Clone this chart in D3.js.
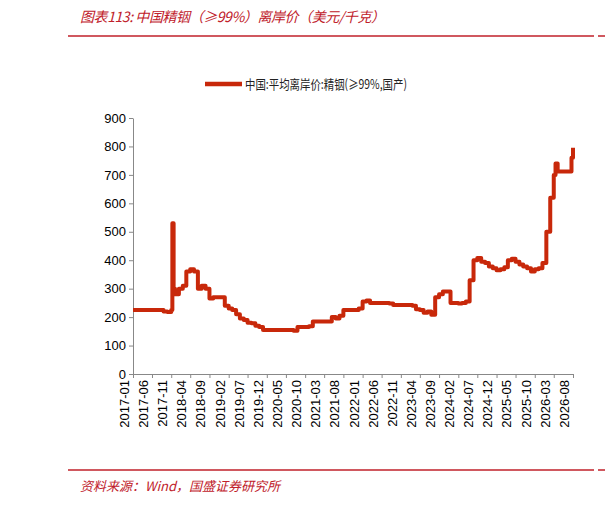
<!DOCTYPE html>
<html><head><meta charset="utf-8">
<script src="https://cdn.jsdelivr.net/npm/d3@7"></script>
<style>body{margin:0;background:#fff}</style>
</head><body><svg id="c" width="605" height="505"></svg>
<script>
var dates = ["2017-01","2017-08","2017-09","2017-10","2017-11","2017-11-10","2017-11-20","2017-12","2018-01","2018-02","2018-03","2018-04","2018-05","2018-06","2018-07","2018-08","2018-09","2018-10","2018-12","2019-01","2019-02","2019-03","2019-04","2019-05","2019-06","2019-07","2019-08","2019-09","2019-10","2019-11","2020-06","2020-07","2020-08","2020-11","2020-12","2021-04","2021-05","2021-06","2021-07","2021-08","2021-12","2022-01","2022-02","2022-03","2022-08","2022-09","2023-02","2023-03","2023-04","2023-05","2023-06","2023-07","2023-08","2023-09","2023-10","2023-11","2023-12","2024-02","2024-03","2024-04","2024-05","2024-06","2024-07","2024-08","2024-09","2024-10","2024-11","2024-12","2025-01","2025-02","2025-03","2025-04","2025-05","2025-06","2025-07","2025-08","2025-09","2025-10","2025-11","2025-12","2026-01","2026-02","2026-03","2026-03-15","2026-04","2026-07","2026-07-20","2026-08"];
var values = [225,225,220,218,225,530,300,280,300,310,360,368,360,300,310,300,265,270,270,240,230,225,210,195,190,180,178,170,165,155,155,152,165,168,185,185,200,195,205,225,230,255,258,250,248,243,240,228,225,215,220,208,270,280,290,290,250,248,250,255,330,400,408,395,390,378,372,365,368,375,400,405,395,385,378,372,360,368,372,390,500,620,700,740,712,712,760,795];
var yTicks = [0,100,200,300,400,500,600,700,800,900];

var parse = function(s){ return s.length > 7 ? d3.timeParse("%Y-%m-%d")(s) : d3.timeParse("%Y-%m")(s); };
var data = dates.map(function(d,i){ return {date: parse(d), value: values[i]}; });

var svg = d3.select("#c");
var red = "#c0202a";
var x = d3.scaleTime().domain([parse("2017-01"), parse("2026-08")]).range([133, 573]);
var y = d3.scaleLinear().domain([0, 900]).range([374, 118]);

svg.append("text").attr("x", 80).attr("y", 22).attr("fill", red)
  .attr("textLength", 305).attr("lengthAdjust", "spacing")
  .style("font", "italic 14px 'Noto Sans CJK SC'").text("图表113:  中国精铟（≥99%）离岸价（美元/千克）");
svg.append("line").attr("x1", 68).attr("x2", 594).attr("y1", 36).attr("y2", 36).attr("stroke", red).attr("stroke-width", 1.5);
svg.append("line").attr("x1", 598).attr("x2", 605).attr("y1", 36).attr("y2", 36).attr("stroke", red).attr("stroke-width", 1.5);
svg.append("line").attr("x1", 68).attr("x2", 594).attr("y1", 470).attr("y2", 470).attr("stroke", red).attr("stroke-width", 1.5);
svg.append("line").attr("x1", 598).attr("x2", 605).attr("y1", 470).attr("y2", 470).attr("stroke", red).attr("stroke-width", 1.5);
svg.append("text").attr("x", 80).attr("y", 491).attr("fill", red)
  .style("font", "italic 13px 'Noto Sans CJK SC'").text("资料来源：Wind，国盛证券研究所");

// legend
svg.append("line").attr("x1", 205).attr("x2", 242).attr("y1", 84).attr("y2", 84).attr("stroke", "#c8280a").attr("stroke-width", 4.5);
svg.append("text").attr("x", 245).attr("y", 89).attr("fill", "#222")
  .attr("textLength", 162).attr("lengthAdjust", "spacingAndGlyphs")
  .style("font", "13px 'Noto Sans CJK SC'").text("中国:平均离岸价:精铟(≥99%,国产)");

// y axis
var ya = svg.append("g").attr("transform", "translate(133,0)")
  .call(d3.axisLeft(y).tickValues(yTicks).tickSize(4).tickSizeOuter(0));
ya.selectAll("text").style("font", "13px 'Liberation Sans'").attr("fill", "#000");
ya.selectAll("line,path").attr("stroke", "#888");

// x axis
var xTicks = d3.range(24).map(function(i){ return d3.timeMonth.offset(parse("2017-01"), i*5); });
var xa = svg.append("g").attr("transform", "translate(0,374)")
  .call(d3.axisBottom(x).tickValues(xTicks).tickFormat(d3.timeFormat("%Y-%m")).tickSize(4).tickSizeOuter(0));
xa.select(".domain").attr("stroke", "#888");
xa.selectAll("line").attr("stroke", "#888");
xa.selectAll("text").style("font", "13px 'Liberation Sans'").attr("fill", "#000")
  .attr("text-anchor", "end").attr("transform", "rotate(-90)").attr("dx", "-6").attr("dy", "-0.35em").attr("x", 0).attr("y", 0);

var line = d3.line().x(function(d){ return x(d.date); }).y(function(d){ return y(d.value); }).curve(d3.curveStepAfter);
svg.append("path").datum(data).attr("d", line).attr("fill", "none")
  .attr("stroke", "#c8280a").attr("stroke-width", 4).attr("stroke-linejoin", "round");
</script></body></html>
